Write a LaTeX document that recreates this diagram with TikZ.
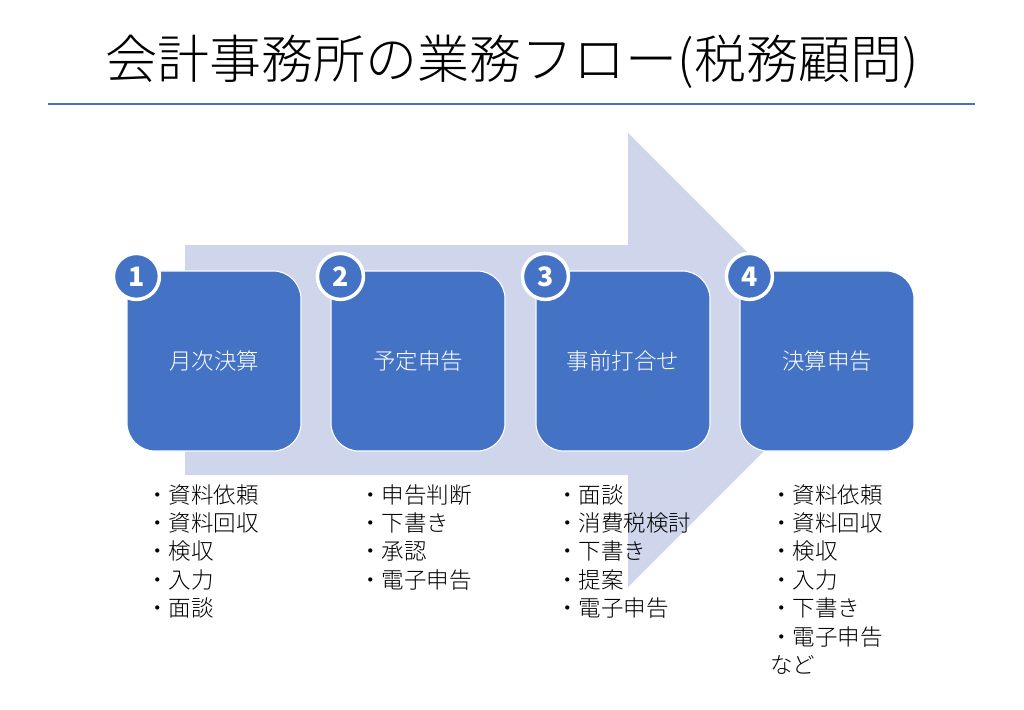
\documentclass[tikz,border=0pt]{standalone}
\usepackage{fontspec}
\setmainfont{Noto Sans CJK JP}
\newfontfamily\lightcjk{Noto Sans CJK JP}[UprightFont={* Light}]
\usetikzlibrary{positioning}
\definecolor{stepblue}{HTML}{4472C4}
\definecolor{arrowgray}{HTML}{CFD5EA}
\tikzset{
  stagebox/.style={rectangle, rounded corners=0.7cm, fill=stepblue, draw=white, line width=0.8pt,
    minimum width=4.35cm, minimum height=4.5cm, text=white, font=\lightcjk\fontsize{16}{18}\selectfont},
  numdot/.style={circle, fill=stepblue, draw=white, line width=2.5pt, minimum size=1.15cm,
    inner sep=0pt, text=white, font=\bfseries\fontsize{19}{20}\selectfont},
  tasklist/.style={anchor=north west, align=left, inner sep=0pt, font=\lightcjk\fontsize{16}{20.2}\selectfont}
}
\begin{document}
\begin{tikzpicture}[x=0.025cm, y=-0.025cm]
    \useasboundingbox (0,0) rectangle (1024,709);

    % Title
    \node[font=\lightcjk\fontsize{37}{40}\selectfont] (title) at (512,62) {会計事務所の業務フロー(税務顧問)};
    \coordinate (rulel) at (48,104);
    \coordinate (ruler) at (975,104);
    \draw[stepblue, line width=1.4pt] (rulel) -- (ruler);

    % Background arrow
    \fill[arrowgray] (185,245) -- (628,245) -- (628,133) -- (855,360)
      -- (628,587) -- (628,475) -- (185,475) -- cycle;

    % Stages
    \foreach \i/\x/\name in {1/214/月次決算, 2/418/予定申告, 3/623/事前打合せ, 4/827/決算申告} {
      \node[stagebox] (stage\i) at (\x,361) {\name};
      \node[numdot] (num\i) at ([xshift=0.25cm, yshift=-0.15cm]stage\i.north west) {\i};
    }

    % Task lists
    \node[tasklist] (list1) at (146,484) {・資料依頼\\・資料回収\\・検収\\・入力\\・面談};
    \node[tasklist] (list2) at (359,484) {・申告判断\\・下書き\\・承認\\・電子申告};
    \node[tasklist] (list3) at (556,484) {・面談\\・消費税検討\\・下書き\\・提案\\・電子申告};
    \node[tasklist] (list4) at (770,484) {・資料依頼\\・資料回収\\・検収\\・入力\\・下書き\\・電子申告\\など};
\end{tikzpicture}
\end{document}
